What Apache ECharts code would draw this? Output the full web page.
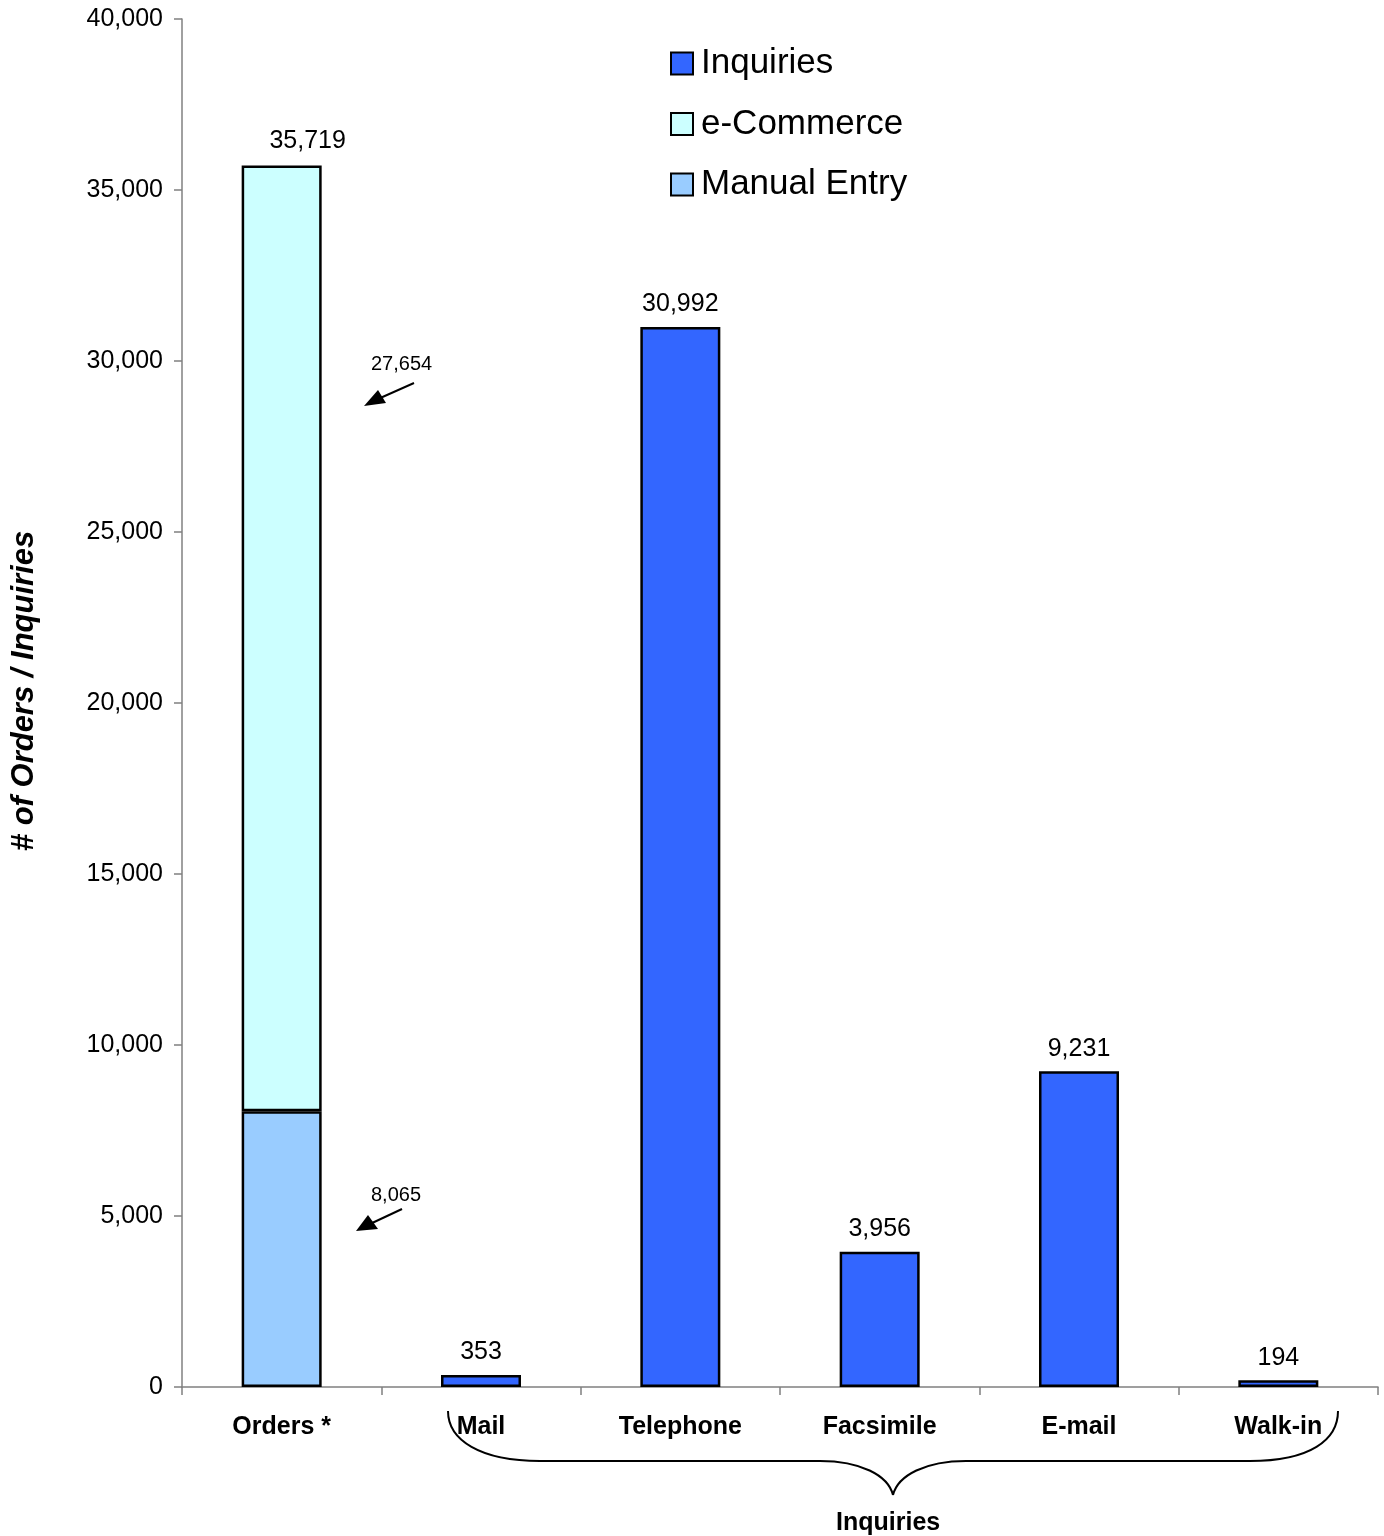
<!DOCTYPE html>
<html><head><meta charset="utf-8">
<script src="https://cdn.jsdelivr.net/npm/echarts@6/dist/echarts.min.js"></script>
<style>html,body{margin:0;padding:0;background:#fff}#c{width:1384px;height:1536px}</style>
</head><body><div id="c"></div>
<script>
const categories = ['Orders *','Mail','Telephone','Facsimile','E-mail','Walk-in'];
const manualEntry = [8065, null, null, null, null, null];
const eCommerce = [27654, null, null, null, null, null];
const inquiries = [null, 353, 30992, 3956, 9231, 194];
const orderTotal = [35719, null, null, null, null, null];
const yTicks = {min: 0, max: 40000, interval: 5000};

const FONT = '"Liberation Sans", Arial, sans-serif';
const fmt = v => v == null ? '' : v.toLocaleString('en-US');
const chart = echarts.init(document.getElementById('c'), null, {renderer: 'canvas'});
const barBorder = {borderColor: '#000', borderWidth: 2.5};
const stroke = {stroke: '#000', lineWidth: 2, fill: null};

chart.setOption({
  animation: false,
  textStyle: {fontFamily: FONT, color: '#000'},
  grid: {left: 182, top: 19, right: 6, bottom: 149, outerBoundsMode: 'none', containLabel: false},
  legend: {
    orient: 'vertical', left: 665, top: 41,
    data: ['Inquiries', 'e-Commerce', 'Manual Entry'],
    itemWidth: 22, itemHeight: 22, itemGap: 25.5,
    icon: 'rect',
    textStyle: {fontFamily: FONT, fontSize: 35, color: '#000', lineHeight: 35, padding: [0, 0, 0, 3]}
  },
  xAxis: {
    type: 'category', data: categories,
    axisLine: {lineStyle: {color: '#808080', width: 1.5}},
    axisTick: {show: true, length: 8, lineStyle: {color: '#808080', width: 1.5}},
    axisLabel: {fontFamily: FONT, fontSize: 25, fontWeight: 'bold', color: '#000', margin: 28}
  },
  yAxis: {
    type: 'value', min: yTicks.min, max: yTicks.max, interval: yTicks.interval,
    splitLine: {show: false},
    axisLine: {show: true, lineStyle: {color: '#808080', width: 1.5}},
    axisTick: {show: true, length: 8, lineStyle: {color: '#808080', width: 1.5}},
    axisLabel: {fontFamily: FONT, fontSize: 25, color: '#000', margin: 19, formatter: v => fmt(v)},
    name: '# of Orders / Inquiries', nameLocation: 'middle', nameRotate: 90, nameGap: 142,
    nameTextStyle: {fontFamily: FONT, fontSize: 31, fontWeight: 'bold', fontStyle: 'italic', color: '#000', padding: [0, 0, 0, 24]}
  },
  series: [
    {name: 'Manual Entry', type: 'bar', stack: 'orders', data: manualEntry, barWidth: 80,
      itemStyle: Object.assign({color: '#99CCFF'}, barBorder)},
    {name: 'e-Commerce', type: 'bar', stack: 'orders', data: eCommerce, barWidth: 80,
      itemStyle: Object.assign({color: '#CCFFFF'}, barBorder),
      label: {show: true, position: 'top', distance: 10, offset: [26, -2], fontFamily: FONT, fontSize: 25, color: '#000',
        formatter: p => fmt(orderTotal[p.dataIndex])}},
    {name: 'Inquiries', type: 'bar', data: inquiries, barWidth: 80, barGap: '-100%',
      itemStyle: Object.assign({color: '#3366FF'}, barBorder),
      label: {show: true, position: 'top', distance: 10, fontFamily: FONT, fontSize: 25, color: '#000',
        formatter: p => fmt(p.value)}}
  ],
  graphic: [
    {type: 'text', x: 371, y: 354, style: {text: '27,654', font: '20px ' + FONT, fill: '#000'}},
    {type: 'line', shape: {x1: 414, y1: 383, x2: 378, y2: 399}, style: {stroke: '#000', lineWidth: 2}},
    {type: 'polygon', shape: {points: [[364, 406], [378, 390], [386, 403]]}, style: {fill: '#000'}},
    {type: 'text', x: 371, y: 1185, style: {text: '8,065', font: '20px ' + FONT, fill: '#000'}},
    {type: 'line', shape: {x1: 402, y1: 1209, x2: 370, y2: 1224}, style: {stroke: '#000', lineWidth: 2}},
    {type: 'polygon', shape: {points: [[356, 1231], [368, 1215], [378, 1229]]}, style: {fill: '#000'}},
    {type: 'bezierCurve', shape: {x1: 448, y1: 1411, cpx1: 448, cpy1: 1440, cpx2: 480, cpy2: 1461, x2: 540, y2: 1461}, style: stroke},
    {type: 'line', shape: {x1: 540, y1: 1461, x2: 820, y2: 1461}, style: stroke},
    {type: 'bezierCurve', shape: {x1: 820, y1: 1461, cpx1: 860, cpy1: 1461, cpx2: 888, cpy2: 1475, x2: 893, y2: 1495}, style: stroke},
    {type: 'bezierCurve', shape: {x1: 893, y1: 1495, cpx1: 898, cpy1: 1475, cpx2: 926, cpy2: 1461, x2: 966, y2: 1461}, style: stroke},
    {type: 'line', shape: {x1: 966, y1: 1461, x2: 1250, y2: 1461}, style: stroke},
    {type: 'bezierCurve', shape: {x1: 1250, y1: 1461, cpx1: 1310, cpy1: 1461, cpx2: 1338, cpy2: 1440, x2: 1338, y2: 1411}, style: stroke},
    {type: 'text', x: 836, y: 1511, style: {text: 'Inquiries', font: 'bold 25px ' + FONT, fill: '#000'}}
  ]
});
</script></body></html>
